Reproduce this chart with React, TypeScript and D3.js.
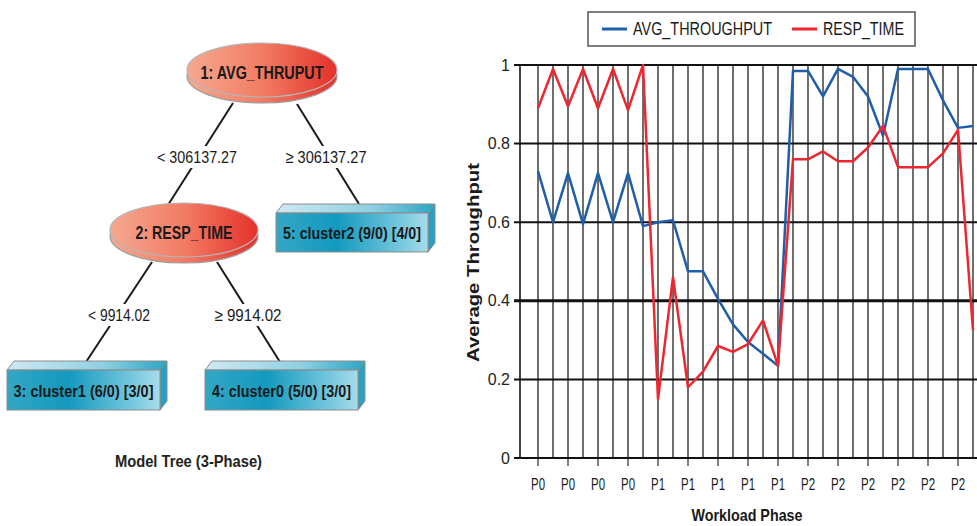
import React from "react";
import * as d3 from "d3";

// ---------- data ----------
const phases = [
  "P0", "P0", "P0", "P0", "P0", "P0", "P0", "P0",
  "P1", "P1", "P1", "P1", "P1", "P1", "P1", "P1", "P1", "P1",
  "P2", "P2", "P2", "P2", "P2", "P2", "P2", "P2", "P2", "P2", "P2", "P2",
];
const avgThroughput = [
  0.73, 0.6, 0.725, 0.595, 0.725, 0.6, 0.725, 0.59,
  0.6, 0.605, 0.475, 0.475, 0.405, 0.34, 0.295, 0.265, 0.235, 0.985,
  0.985, 0.92, 0.99, 0.97, 0.92, 0.82, 0.99, 0.99, 0.99, 0.91, 0.84, 0.845,
];
const respTime = [
  0.89, 0.99, 0.895, 0.99, 0.89, 0.99, 0.885, 1.0,
  0.15, 0.46, 0.18, 0.22, 0.285, 0.27, 0.29, 0.35, 0.235, 0.76,
  0.76, 0.78, 0.755, 0.755, 0.79, 0.845, 0.74, 0.74, 0.74, 0.775, 0.835, 0.325,
];
const seriesNames = ["AVG_THROUGHPUT", "RESP_TIME"];
const yTicks = [0, 0.2, 0.4, 0.6, 0.8, 1];
const yTickLabels = ["0", "0.2", "0.4", "0.6", "0.8", "1"];

const treeDiscs = ["1: AVG_THRUPUT", "2: RESP_TIME"];
const treeLeaves = ["3: cluster1 (6/0) [3/0]", "4: cluster0 (5/0) [3/0]", "5: cluster2 (9/0) [4/0]"];
const splitLabels = ["< 306137.27", "\u2265 306137.27", "< 9914.02", "\u2265 9914.02"];
const treeTitle = "Model Tree (3-Phase)";

// ---------- style ----------
const FONT = "'Liberation Sans Narrow','Liberation Sans',Arial,sans-serif";
const BLUE = "#1f5ea8";
const RED = "#ee2630";

function Disc({ cx, cy, rx, ry, label, len }: any) {
  return (
    <g>
      <ellipse cx={cx} cy={cy + 6} rx={rx} ry={ry} fill="url(#redGrad)" stroke="#9c9c9c" strokeWidth={1.2} />
      <ellipse cx={cx} cy={cy} rx={rx} ry={ry} fill="url(#redGrad)" stroke="#b4b4b4" strokeWidth={1.2} />
      <text x={cx} y={cy + 3} dy="0.35em" textAnchor="middle" fontFamily={FONT} fontWeight="bold" fontSize={18}
        fill="#1a1a1a" textLength={len} lengthAdjust="spacingAndGlyphs">{label}</text>
    </g>
  );
}

function Box({ x, y, w, h, label, len }: any) {
  const dx = 7, dy = 9;
  const top = `${x},${y} ${x + dx},${y - dy} ${x + w + dx},${y - dy} ${x + w},${y}`;
  const side = `${x + w},${y} ${x + w + dx},${y - dy} ${x + w + dx},${y + h - dy} ${x + w},${y + h}`;
  return (
    <g stroke="#8c8c8c" strokeWidth={1}>
      <polygon points={top} fill="url(#boxTop)" />
      <polygon points={side} fill="#25a2c3" />
      <rect x={x} y={y} width={w} height={h} fill="url(#boxFront)" />
      <text x={x + w / 2} y={y + h / 2 + 1} dy="0.35em" textAnchor="middle" fontFamily={FONT} fontWeight="bold"
        fontSize={17} fill="#1a1a1a" stroke="none" textLength={len} lengthAdjust="spacingAndGlyphs">{label}</text>
    </g>
  );
}

function Edge({ x1, y1, x2, y2, label, lx, ly, len }: any) {
  return (
    <g>
      <line x1={x1} y1={y1} x2={x2} y2={y2} stroke="#1a1a1a" strokeWidth={2} />
      <rect x={lx - len / 2 - 3} y={ly - 11} width={len + 6} height={22} fill="#fff" />
      <text x={lx} y={ly} dy="0.35em" textAnchor="middle" fontFamily={FONT} fontSize={17} fill="#1a1a1a"
        textLength={len} lengthAdjust="spacingAndGlyphs">{label}</text>
    </g>
  );
}

export default function App() {
  const W = 977, H = 526;
  const x = d3.scaleLinear().domain([0, phases.length - 1]).range([538, 973]);
  const y = d3.scaleLinear().domain([0, 1]).range([458, 65]);
  const line = d3.line<number>().x((_, i) => x(i)).y((d) => y(d));
  const idx = d3.range(phases.length);

  return (
    <svg width={W} height={H} style={{ position: "absolute", left: 0, top: 0, display: "block" }}>
      <defs>
        <linearGradient id="redGrad" x1="0" x2="1" y1="0" y2="0">
          <stop offset="0" stopColor="#f6a890" />
          <stop offset="0.5" stopColor="#f27c64" />
          <stop offset="1" stopColor="#e5312a" />
        </linearGradient>
        <linearGradient id="boxFront" x1="0" x2="1" y1="0" y2="0">
          <stop offset="0" stopColor="#35a6c4" />
          <stop offset="0.4" stopColor="#1399bf" />
          <stop offset="0.85" stopColor="#7ecbe0" />
          <stop offset="1" stopColor="#a9dbea" />
        </linearGradient>
        <linearGradient id="boxTop" x1="0" x2="1" y1="0" y2="0">
          <stop offset="0" stopColor="#cfe9f2" />
          <stop offset="0.6" stopColor="#8fd0e2" />
          <stop offset="1" stopColor="#2ba5c5" />
        </linearGradient>
      </defs>
      <rect width={W} height={H} fill="#fff" />

      {/* ---------- tree ---------- */}
      <Edge x1={233} y1={103} x2={168} y2={205} label={splitLabels[0]} lx={197} ly={157} len={80} />
      <Edge x1={297} y1={104} x2={359} y2={204} label={splitLabels[1]} lx={326} ly={157} len={81} />
      <Edge x1={152} y1={262} x2={86} y2={362} label={splitLabels[2]} lx={119} ly={315} len={62} />
      <Edge x1={217} y1={262} x2={280} y2={362} label={splitLabels[3]} lx={248} ly={315} len={67} />
      <Disc cx={262} cy={70} rx={75} ry={27} label={treeDiscs[0]} len={123} />
      <Disc cx={184} cy={230} rx={74} ry={27} label={treeDiscs[1]} len={97} />
      <Box x={7} y={370} w={153} h={40} label={treeLeaves[0]} len={140} />
      <Box x={205} y={370} w={153} h={40} label={treeLeaves[1]} len={139} />
      <Box x={276} y={213} w={152} h={39} label={treeLeaves[2]} len={138} />
      <text x={188.5} y={461} dy="0.35em" textAnchor="middle" fontFamily={FONT} fontWeight="bold" fontSize={16}
        fill="#222" textLength={147} lengthAdjust="spacingAndGlyphs">{treeTitle}</text>

      {/* ---------- chart ---------- */}
      {idx.map((i) => (
        <line key={"v" + i} x1={x(i)} x2={x(i)} y1={y(1)} y2={y(0)} stroke="#5f5f5f" strokeWidth={1.8} />
      ))}
      <line x1={520} x2={520} y1={y(1)} y2={y(0)} stroke="#444" strokeWidth={2} />
      {idx.filter((i) => i % 2 === 0).map((i) => (
        <line key={"t" + i} x1={x(i)} x2={x(i)} y1={y(0)} y2={y(0) + 8} stroke="#555" strokeWidth={1.5} />
      ))}
      {yTicks.map((t) => (
        <line key={"h" + t} x1={514} x2={W} y1={y(t)} y2={y(t)} stroke="#111"
          strokeWidth={t === 0.4 ? 3 : 2} />
      ))}
      {yTicks.map((t, k) => (
        <text key={"yl" + t} x={510} y={y(t)} dy="0.35em" textAnchor="end" fontFamily={FONT} fontSize={16}
          fill="#222">{yTickLabels[k]}</text>
      ))}
      {idx.filter((i) => i % 2 === 0).map((i) => (
        <text key={"xl" + i} x={x(i)} y={484} dy="0.35em" textAnchor="middle" fontFamily={FONT} fontSize={17}
          fill="#1a1a1a" textLength={14} lengthAdjust="spacingAndGlyphs">{phases[i]}</text>
      ))}
      <path d={line(avgThroughput) || ""} fill="none" stroke={BLUE} strokeWidth={2.5} strokeLinejoin="round" />
      <path d={line(respTime) || ""} fill="none" stroke={RED} strokeWidth={2.5} strokeLinejoin="round" />

      <text transform="translate(473,262.5) rotate(-90)" dy="0.35em" textAnchor="middle" fontFamily={FONT}
        fontWeight="bold" fontSize={17} fill="#1a1a1a" textLength={199} lengthAdjust="spacingAndGlyphs">Average Throughput</text>
      <text x={747} y={515} dy="0.35em" textAnchor="middle" fontFamily={FONT} fontWeight="bold" fontSize={17}
        fill="#1a1a1a" textLength={111} lengthAdjust="spacingAndGlyphs">Workload Phase</text>

      {/* legend */}
      <rect x={588} y={12} width={327} height={34} fill="#fff" stroke="#555" strokeWidth={1.5} />
      <line x1={602} x2={627} y1={29} y2={29} stroke={BLUE} strokeWidth={3} />
      <text x={633} y={29} dy="0.35em" fontFamily={FONT} fontSize={18} fill="#1a1a1a" textLength={139}
        lengthAdjust="spacingAndGlyphs">{seriesNames[0]}</text>
      <line x1={792} x2={817} y1={29} y2={29} stroke={RED} strokeWidth={3} />
      <text x={823} y={29} dy="0.35em" fontFamily={FONT} fontSize={18} fill="#1a1a1a" textLength={81}
        lengthAdjust="spacingAndGlyphs">{seriesNames[1]}</text>
    </svg>
  );
}
